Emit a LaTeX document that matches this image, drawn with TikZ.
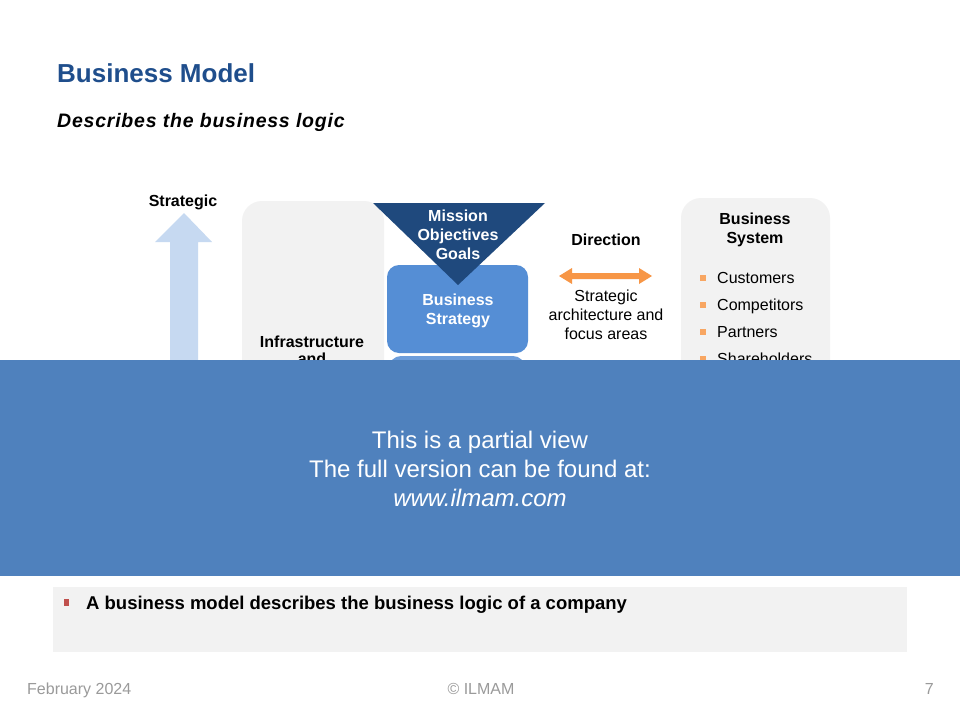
\documentclass[tikz,border=0pt]{standalone}
\usepackage{fontspec}
\setmainfont{Liberation Sans}
\usepackage{tikz}
\usetikzlibrary{positioning}
\definecolor{titleblue}{HTML}{1F4E8C}
\definecolor{missionblue}{HTML}{1F497D}
\definecolor{strategyblue}{HTML}{558ED5}
\definecolor{lowerblue}{HTML}{6C9DDB}
\definecolor{bannerblue}{HTML}{4F81BD}
\definecolor{arrowblue}{HTML}{C6D9F1}
\definecolor{panelgrey}{HTML}{F2F2F2}
\definecolor{dirorange}{HTML}{F79646}
\definecolor{bulletred}{HTML}{C0504D}
\definecolor{footgrey}{HTML}{9A9A9A}

\begin{document}
\begin{tikzpicture}[x=1pt, y=-1pt, every node/.style={inner sep=0pt},
    boldlbl/.style={font=\fontsize{16}{19}\selectfont\bfseries, align=center},
    plainlbl/.style={font=\fontsize{16}{19}\selectfont, align=center},
    whitelbl/.style={boldlbl, text=white},
    footer/.style={font=\fontsize{16}{19}\selectfont, text=footgrey, anchor=base}]
    \useasboundingbox[fill=white] (0,0) rectangle (960,720);

    % Title
    \node[font=\fontsize{26}{30}\selectfont\bfseries, text=titleblue, anchor=base west] (title) at (57,82) {Business Model};
    \node[font=\fontsize{19.5}{23}\selectfont\bfseries\itshape\addfontfeature{LetterSpace=4}, anchor=base west] (subtitle) at (57,127) {Describes the business logic};

    % Strategic arrow
    \node[boldlbl, anchor=base] (strategic) at (183,206) {Strategic};
    \fill[arrowblue] (184,213) -- (212,242) -- (198,242) -- (198,560) -- (170,560) -- (170,242) -- (155,242) -- cycle;

    % Infrastructure panel
    \fill[panelgrey, rounded corners=20pt] (242,201) rectangle (384,560);
    \node[boldlbl, anchor=base] (infra) at (312,347) {Infrastructure};
    \node[boldlbl, anchor=base] (infraand) at (312,364) {and};

    % Strategy boxes and mission triangle
    \fill[lowerblue, rounded corners=12pt] (389,356) rectangle (525,450);
    \fill[strategyblue, rounded corners=12pt] (387,265) rectangle (528,353);
    \node[whitelbl] (strategy) at (458,311) {Business\\Strategy};
    \fill[missionblue] (373,203) -- (545,203) -- (458,285) -- cycle;
    \node[whitelbl] (mission) at (458,235) {Mission\\Objectives\\Goals};

    % Direction
    \node[boldlbl, anchor=base] (direction) at (606,245) {Direction};
    \fill[dirorange] (559,276) -- (572,268) -- (572,273) -- (639,273) -- (639,268) -- (652,276)
        -- (639,284) -- (639,279) -- (572,279) -- (572,284) -- cycle;
    \node[plainlbl] (focus) at (606,315) {Strategic\\architecture and\\focus areas};

    % Business system panel
    \fill[panelgrey, rounded corners=20pt] (681,198) rectangle (830,560);
    \node[boldlbl] (bsystem) at (755,229.5) {Business\\System};
    \foreach \name [count=\i] in {Customers,Competitors,Partners,Shareholders} {
        \pgfmathsetmacro{\by}{283 + (\i-1)*27}
        \fill[dirorange!85] (700,\by-8.5) rectangle ++(6,6);
        \node[font=\fontsize{16}{19}\selectfont, anchor=base west] (bs\i) at (717,\by) {\name};
    }

    % Partial view banner
    \fill[bannerblue] (0,360) rectangle (960,576);
    \node[font=\fontsize{24}{29}\selectfont, text=white, align=center] (banner) at (480,469)
        {This is a partial view\\The full version can be found at:\\\textit{www.ilmam.com}};

    % Summary box
    \fill[panelgrey] (53,587) rectangle (907,652);
    \fill[bulletred] (64,599) rectangle (69,606);
    \node[font=\fontsize{18.5}{22}\selectfont\bfseries, anchor=base west] (summary) at (86,609) {A business model describes the business logic of a company};

    % Footer
    \node[footer, anchor=base west] (date) at (27,694) {February 2024};
    \node[footer] (copy) at (481,694) {\textcopyright{} ILMAM};
    \node[footer, anchor=base east] (page) at (934,694) {7};
\end{tikzpicture}
\end{document}
